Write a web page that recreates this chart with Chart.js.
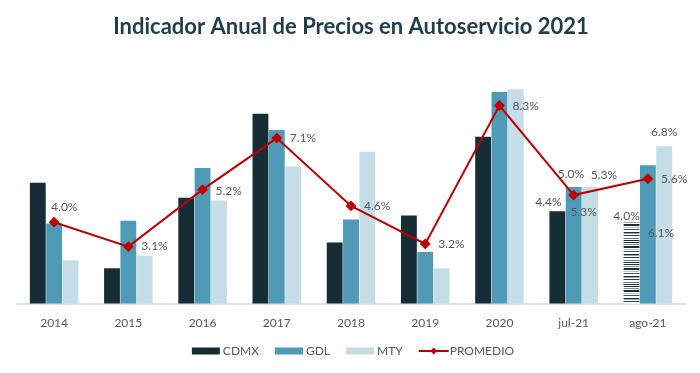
<!DOCTYPE html>
<html lang="es">
<head>
  <meta charset="UTF-8">
  <title>Indicador Anual de Precios en Autoservicio 2021</title>
  <style>
    html, body { margin: 0; padding: 0; background: #ffffff; }
    .chart-container { width: 700px; height: 373px; position: relative; }
  </style>
</head>
<body>
  <div class="chart-container">
    <canvas id="preciosChart"></canvas>
  </div>

  <script src="https://cdn.jsdelivr.net/npm/chart.js"></script>
  <script>
    // Datos (% anual)
    const categories = ['2014', '2015', '2016', '2017', '2018', '2019', '2020', 'jul-21', 'ago-21'];
    const cdmx = [5.45, 2.3, 4.9, 8.0, 3.25, 4.25, 7.15, 4.4, 4.0];
    const gdl = [3.95, 4.05, 6.0, 7.4, 4.1, 2.9, 8.8, 5.3, 6.1];
    const mty = [2.6, 2.75, 4.8, 6.05, 6.6, 2.3, 8.9, 5.3, 6.8];
    const promedio = [4.0, 3.1, 5.2, 7.1, 4.6, 3.2, 8.3, 5.0, 5.6];

    const textColor = '#595959';
    const fontFamily = 'Lato, "Open Sans", sans-serif';
    const colCdmx = '#172d36';
    const colGdl = '#4f9ab6';
    const colMty = '#c4dde6';
    const colProm = '#c00000';

    // Barra rayada (ago-21 CDMX)
    function makeStripes() {
      const c = document.createElement('canvas');
      c.width = 8; c.height = 22;
      const g = c.getContext('2d');
      const rows = ['#1b2f38', '#ffffff', '#7d8a90', '#ffffff', '#1b2f38', '#1b2f38', '#ffffff', '#b8c1c5',
                    '#ffffff', '#44565e', '#ffffff', '#ffffff', '#1b2f38', '#9aa5aa', '#ffffff', '#2b3e46',
                    '#ffffff', '#ffffff', '#66767d', '#ffffff', '#1b2f38', '#ffffff'];
      rows.forEach((col, i) => { g.fillStyle = col; g.fillRect(0, i, 8, 1); });
      return g.createPattern(c, 'repeat');
    }
    const stripes = makeStripes();
    const cdmxColors = categories.map((c, i) => i === categories.length - 1 ? stripes : colCdmx);

    // Etiquetas: [dataset, indice, dx, dy, align]
    const labelSpecs = [
      [3, 0, -3, -15, 'left'], [3, 1, 13, 0, 'left'], [3, 2, 13, 1, 'left'], [3, 3, 13, 0, 'left'],
      [3, 4, 13, 0, 'left'], [3, 5, 13, 0, 'left'], [3, 6, 13, 1, 'left'], [3, 7, -16, -21, 'left'],
      [3, 8, 13, 0, 'left'],
      [0, 7, -9, -9, 'center'], [1, 7, 10, 25, 'center'], [2, 7, 14, -12, 'center'],
      [0, 8, -5, -6, 'center'], [1, 8, 13, 68, 'center'], [2, 8, 0, -14, 'center']
    ];

    const valueLabels = {
      id: 'valueLabels',
      afterDatasetsDraw(chart) {
        const ctx = chart.ctx;
        ctx.save();
        ctx.font = '12px ' + fontFamily;
        ctx.fillStyle = textColor;
        ctx.textBaseline = 'middle';
        labelSpecs.forEach(([ds, idx, dx, dy, align]) => {
          const el = chart.getDatasetMeta(ds).data[idx];
          const v = chart.data.datasets[ds].data[idx];
          ctx.textAlign = align;
          ctx.fillText(v.toFixed(1) + '%', el.x + dx, el.y + dy);
        });
        ctx.restore();
      }
    };

    // Leyenda dibujada a mano
    const customLegend = {
      id: 'customLegend',
      afterDraw(chart) {
        const ctx = chart.ctx;
        const y = 351;
        ctx.save();
        ctx.font = '12px ' + fontFamily;
        ctx.textBaseline = 'middle';
        ctx.textAlign = 'left';
        const items = chart.data.datasets.map(d => ({ text: d.label, w: ctx.measureText(d.label).width, line: d.type === 'line' }));
        const boxW = 28, gap = 3, space = 16;
        const total = items.reduce((s, it) => s + boxW + gap + it.w, 0) + space * (items.length - 1);
        let x = (chart.chartArea.left + chart.chartArea.right) / 2 + 2 - total / 2;
        const fills = [colCdmx, colGdl, colMty];
        items.forEach((it, i) => {
          if (it.line) {
            ctx.strokeStyle = colProm;
            ctx.lineWidth = 2;
            ctx.beginPath(); ctx.moveTo(x, y); ctx.lineTo(x + 30, y); ctx.stroke();
            const m = x + 15;
            ctx.fillStyle = colProm;
            ctx.beginPath();
            ctx.moveTo(m, y - 3.5); ctx.lineTo(m + 3.5, y); ctx.lineTo(m, y + 3.5); ctx.lineTo(m - 3.5, y);
            ctx.closePath(); ctx.fill();
          } else {
            ctx.fillStyle = fills[i];
            ctx.fillRect(x, y - 3.5, boxW, 7);
          }
          ctx.fillStyle = textColor;
          ctx.fillText(it.text, x + boxW + gap, y);
          x += boxW + gap + it.w + space;
        });
        ctx.restore();
      }
    };

    const ctx = document.getElementById('preciosChart').getContext('2d');
    new Chart(ctx, {
      type: 'bar',
      data: {
        labels: categories,
        datasets: [
          { label: 'CDMX', data: cdmx, backgroundColor: cdmxColors, order: 1 },
          { label: 'GDL', data: gdl, backgroundColor: colGdl, order: 1 },
          { label: 'MTY', data: mty, backgroundColor: colMty, order: 1 },
          {
            type: 'line', label: 'PROMEDIO', data: promedio, order: 0,
            borderColor: colProm, backgroundColor: colProm, borderWidth: 2,
            pointStyle: 'rectRot', pointRadius: 4, pointHoverRadius: 4, tension: 0
          }
        ]
      },
      options: {
        responsive: true,
        maintainAspectRatio: false,
        animation: false,
        datasets: { bar: { categoryPercentage: 0.66, barPercentage: 0.97 } },
        layout: { padding: { left: 17, right: 15, top: 0, bottom: 39 } },
        plugins: {
          title: {
            display: true,
            text: 'Indicador Anual de Precios en Autoservicio 2021',
            color: '#1f3d4c',
            font: { family: fontFamily, size: 22, weight: 'bold' },
            padding: { top: 14, bottom: 19 }
          },
          legend: { display: false },
          tooltip: { enabled: false }
        },
        scales: {
          x: {
            grid: { display: false },
            border: { color: '#d5e3e9', width: 2 },
            ticks: { color: textColor, font: { family: fontFamily, size: 12 }, padding: 4 }
          },
          y: {
            display: false,
            min: 1,
            max: 10
          }
        }
      },
      plugins: [valueLabels, customLegend]
    });
  </script>
</body>
</html>
